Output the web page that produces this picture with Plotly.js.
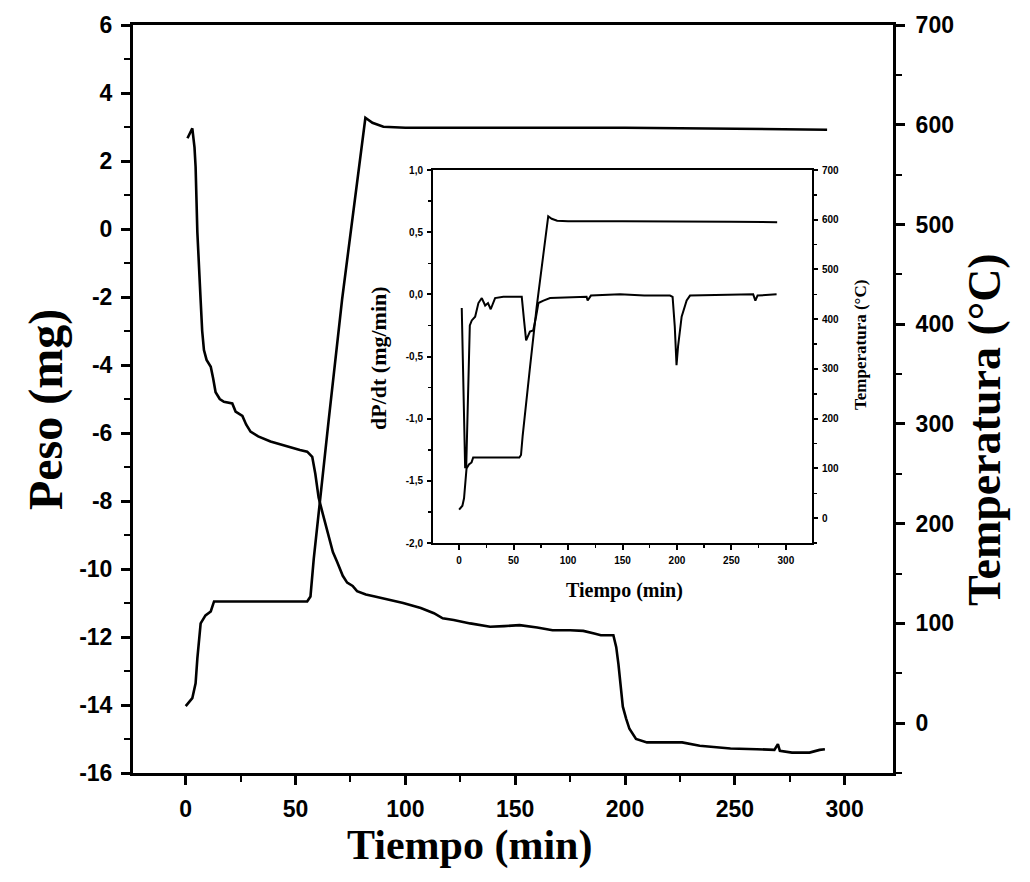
<!DOCTYPE html>
<html>
<head>
<meta charset="utf-8">
<script src="https://cdn.plot.ly/plotly-3.0.1.min.js"></script>
<style>html,body{margin:0;padding:0;background:#fff;}#chart{width:1030px;height:882px;}</style>
</head>
<body>
<div id="chart"></div>
<script>
// Weight (Peso, mg) vs time (min)
const pesoTime = [0.8,2.0,3.0,4.0,4.5,5.3,6.0,6.8,7.5,8.3,9.5,11.4,12.5,13.6,15.5,17.4,21.2,22.7,25.8,27.5,29.5,33,38.6,46.2,52,55.3,57.6,59,60.5,62.5,64.4,67,69,71.5,73.5,76,78,82,85.6,92,99,107,113,117,122,129.5,138.6,145,152,160,167,175,181,186,189,194.7,196,197,197.7,199,200.5,202,205,210,218,226,234,248,260,268,269.6,270.5,276,284,288.6,291];
const pesoValues = [2.67,2.85,2.96,2.4,1.83,-0.1,-1.2,-2.1,-3.0,-3.56,-3.85,-4.05,-4.4,-4.8,-5.0,-5.08,-5.13,-5.37,-5.5,-5.75,-5.96,-6.1,-6.25,-6.4,-6.5,-6.55,-6.7,-7.2,-7.9,-8.4,-8.9,-9.5,-9.8,-10.2,-10.4,-10.5,-10.65,-10.75,-10.8,-10.9,-11.0,-11.15,-11.3,-11.45,-11.5,-11.6,-11.7,-11.68,-11.65,-11.72,-11.8,-11.8,-11.82,-11.9,-11.95,-11.95,-12.3,-12.8,-13.3,-14.05,-14.4,-14.7,-15.0,-15.1,-15.1,-15.1,-15.2,-15.28,-15.3,-15.32,-15.15,-15.35,-15.4,-15.4,-15.32,-15.3];

// Temperature (°C) vs time (min)
const tempTime = [0,3,4.5,5.3,6.8,9,11.4,12.9,30,55.3,56.8,58.3,65,71.2,81.8,85,90,100,150,200,250,292];
const tempValues = [17,25,40,65,100,108,112,122,122,122,127,165,302,425,607,602,598,597,597,597,596,595];

// Derivative dP/dt (mg/min) vs time (min) - inset
const dpdtTime = [2.4,3.5,4.5,5.5,6.5,8.3,9.8,11.6,14.7,17.7,20.8,23.9,26.5,29,33,40.6,57.5,59.6,61.5,65,68,70.6,72.8,77.4,83.5,117,118,121,147.7,170,193.6,196,198,199.6,201,204.3,208.9,212,250,270,272,274,291.5];
const dpdtValues = [-0.11,-0.5,-1.0,-1.39,-1.39,-0.8,-0.25,-0.21,-0.18,-0.07,-0.03,-0.09,-0.07,-0.12,-0.03,-0.02,-0.02,-0.21,-0.37,-0.30,-0.29,-0.18,-0.07,-0.05,-0.03,-0.02,-0.05,-0.01,0.0,-0.01,-0.01,-0.02,-0.26,-0.57,-0.42,-0.18,-0.05,-0.01,0.0,0.0,-0.05,-0.01,0.0];

// Tick values and labels
const mainXTicks = [0,50,100,150,200,250,300];
const mainXLabels = ["0","50","100","150","200","250","300"];
const pesoTicks = [6,4,2,0,-2,-4,-6,-8,-10,-12,-14,-16];
const pesoLabels = ["6","4","2","0","-2","-4","-6","-8","-10","-12","-14","-16"];
const tempTicks = [0,100,200,300,400,500,600,700];
const tempLabels = ["0","100","200","300","400","500","600","700"];
const insetDpdtTicks = [1.0,0.5,0.0,-0.5,-1.0,-1.5,-2.0];
const insetDpdtLabels = ["1,0","0,5","0,0","-0,5","-1,0","-1,5","-2,0"];

const lineStyle = {color:'#000', width:2.6};
const insetLine = {color:'#000', width:2};

const traces = [
  {x: pesoTime, y: pesoValues, xaxis:'x', yaxis:'y', mode:'lines', line: lineStyle, showlegend:false, hoverinfo:'skip'},
  {x: tempTime, y: tempValues, xaxis:'x', yaxis:'y2', mode:'lines', line: lineStyle, showlegend:false, hoverinfo:'skip'},
  {x: dpdtTime, y: dpdtValues, xaxis:'x2', yaxis:'y3', mode:'lines', line: insetLine, showlegend:false, hoverinfo:'skip'},
  {x: tempTime, y: tempValues, xaxis:'x2', yaxis:'y4', mode:'lines', line: insetLine, showlegend:false, hoverinfo:'skip'}
];

const mainTickFont = {family:'Liberation Sans, Arial, sans-serif', size:23, color:'#000', weight:'bold'};
const insetTickFont = {family:'Liberation Sans, Arial, sans-serif', size:10, color:'#000', weight:'bold'};
const serifBold = 'Liberation Serif, Times New Roman, serif';

const W = 1030, H = 882;
const px = v => v / W;
const py = v => 1 - v / H;

const layout = {
  width: W, height: H,
  margin: {l:0, r:0, t:0, b:0},
  paper_bgcolor:'#fff', plot_bgcolor:'#fff',
  showlegend:false,
  xaxis: {
    domain:[px(133), px(893)], anchor:'y', range:[-24,322],
    showgrid:false, zeroline:false, showline:true, linewidth:3, linecolor:'#000', mirror:true,
    tickvals: mainXTicks, ticktext: mainXLabels, ticks:'outside', ticklen:9, tickwidth:3, tickcolor:'#000',
    minor:{dtick:25, ticks:'outside', ticklen:6, tickwidth:2, tickcolor:'#000'},
    tickfont: mainTickFont, ticklabelstandoff: 4
  },
  yaxis: {
    domain:[py(773), py(25)], anchor:'x', range:[-16,6],
    showgrid:false, zeroline:false, showline:true, linewidth:3, linecolor:'#000',
    tickvals: pesoTicks, ticktext: pesoLabels, ticks:'outside', ticklen:9, tickwidth:3, tickcolor:'#000',
    minor:{dtick:1, ticks:'outside', ticklen:6, tickwidth:2, tickcolor:'#000'},
    tickfont: mainTickFont, ticklabelstandoff: 4
  },
  yaxis2: {
    overlaying:'y', side:'right', anchor:'x', range:[-50,700],
    showgrid:false, zeroline:false, showline:true, linewidth:3, linecolor:'#000',
    tickvals: tempTicks, ticktext: tempLabels, ticks:'outside', ticklen:9, tickwidth:3, tickcolor:'#000',
    minor:{dtick:50, ticks:'outside', ticklen:6, tickwidth:2, tickcolor:'#000'},
    tickfont: mainTickFont, ticklabelstandoff: 6
  },
  xaxis2: {
    domain:[px(433), px(812)], anchor:'y3', range:[-24,324],
    showgrid:false, zeroline:false, showline:true, linewidth:2, linecolor:'#000', mirror:true,
    tickvals: mainXTicks, ticktext: mainXLabels, ticks:'outside', ticklen:5, tickwidth:2, tickcolor:'#000',
    minor:{dtick:25, ticks:'outside', ticklen:3, tickwidth:1.5, tickcolor:'#000'},
    tickfont: insetTickFont, ticklabelstandoff: 2
  },
  yaxis3: {
    domain:[py(543), py(170)], anchor:'x2', range:[-2,1],
    showgrid:false, zeroline:false, showline:true, linewidth:2, linecolor:'#000',
    tickvals: insetDpdtTicks, ticktext: insetDpdtLabels, ticks:'outside', ticklen:4, tickwidth:2, tickcolor:'#000',
    minor:{dtick:0.25, ticks:'outside', ticklen:3, tickwidth:1.5, tickcolor:'#000'},
    tickfont: insetTickFont, ticklabelstandoff: 2
  },
  yaxis4: {
    overlaying:'y3', side:'right', anchor:'x2', range:[-50,700],
    showgrid:false, zeroline:false, showline:true, linewidth:2, linecolor:'#000',
    tickvals: tempTicks, ticktext: tempLabels, ticks:'outside', ticklen:4, tickwidth:2, tickcolor:'#000',
    minor:{dtick:50, ticks:'outside', ticklen:3, tickwidth:1.5, tickcolor:'#000'},
    tickfont: insetTickFont, ticklabelstandoff: 2
  },
  annotations: [
    {text:'Tiempo (min)', xref:'paper', yref:'paper', x:px(469), y:py(845), xanchor:'center', yanchor:'middle', showarrow:false,
     font:{family:serifBold, size:42, color:'#000', weight:'bold'}},
    {text:'Peso (mg)', xref:'paper', yref:'paper', x:px(46), y:py(410), xanchor:'center', yanchor:'middle', showarrow:false, textangle:-90,
     font:{family:serifBold, size:48, color:'#000', weight:'bold'}},
    {text:'Temperatura (°C)', xref:'paper', yref:'paper', x:px(985), y:py(430), xanchor:'center', yanchor:'middle', showarrow:false, textangle:-90,
     font:{family:serifBold, size:46, color:'#000', weight:'bold'}},
    {text:'Tiempo (min)', xref:'paper', yref:'paper', x:px(624), y:py(590), xanchor:'center', yanchor:'middle', showarrow:false,
     font:{family:serifBold, size:20, color:'#000', weight:'bold'}},
    {text:'dP/dt (mg/min)', xref:'paper', yref:'paper', x:px(378), y:py(358), xanchor:'center', yanchor:'middle', showarrow:false, textangle:-90,
     font:{family:serifBold, size:22, color:'#000', weight:'bold'}},
    {text:'Temperatura (°C)', xref:'paper', yref:'paper', x:px(860), y:py(345), xanchor:'center', yanchor:'middle', showarrow:false, textangle:-90,
     font:{family:serifBold, size:17, color:'#000', weight:'bold'}}
  ]
};

Plotly.newPlot('chart', traces, layout, {staticPlot:true, displayModeBar:false});
</script>
</body>
</html>
